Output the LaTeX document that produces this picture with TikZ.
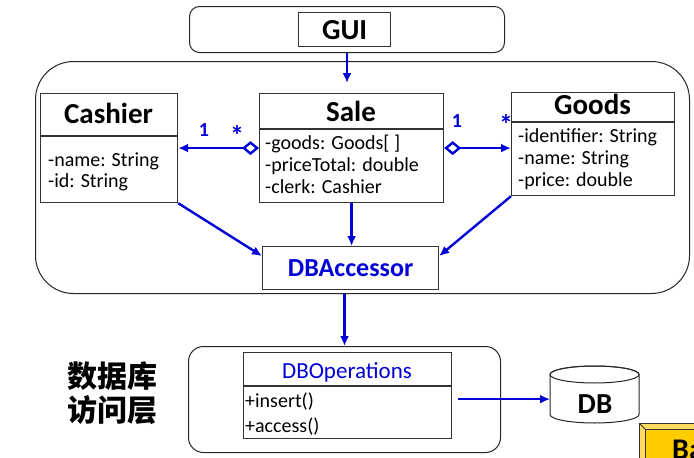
\documentclass[tikz,border=0pt]{standalone}
\usepackage{fontspec}
\setmainfont{Carlito}
\newfontfamily\cjk{Noto Sans CJK SC}
\usetikzlibrary{arrows.meta}
\definecolor{linkblue}{RGB}{0,0,215}
\definecolor{barface}{RGB}{255,204,0}
\definecolor{barside}{RGB}{255,220,95}
\tikzset{
  frame/.style={draw=black!85, line width=1pt, anchor=north west, inner sep=0pt},
  umlbox/.style={draw=black!80, line width=1.2pt, anchor=north west, inner sep=0pt},
  divider/.style={draw=black!80, line width=1.2pt},
  title/.style={font=\bfseries\fontsize{29}{34}\selectfont, anchor=base, inner sep=0pt},
  attr/.style={font=\fontsize{20}{24}\selectfont, anchor=base west, inner sep=0pt},
  mult/.style={text=linkblue, font=\bfseries\fontsize{20}{24}\selectfont, inner sep=0pt},
  link/.style={draw=linkblue, line width=2.4pt, -{Latex[length=10pt,width=9pt]}},
  agg/.style={link, {Diamond[open,length=17pt,width=14pt]}-{Latex[length=10pt,width=9pt]}},
}
\begin{document}
\begin{tikzpicture}[x=1pt, y=-1pt]
    \useasboundingbox (0,0) rectangle (694,458);
    % layers
    \node[frame, rounded corners=10pt, minimum width=315pt, minimum height=46pt] (guilayer) at (189,6) {};
    \node[frame, rounded corners=38pt, minimum width=654pt, minimum height=232pt] (logiclayer) at (35,61) {};
    \node[frame, rounded corners=15pt, minimum width=312pt, minimum height=106pt] (datalayer) at (188,346) {};
    \node[umlbox, minimum width=92pt, minimum height=34pt, font=\bfseries\fontsize{29}{34}\selectfont] (gui) at (298,12) {GUI};
    % classes
    \node[umlbox, minimum width=137pt, minimum height=109pt] (cashier) at (40,93) {};
    \draw[divider] (40,136) -- (177,136);
    \node[title] (cashiertitle) at (108.5,123) {Cashier};
    \node[attr] (cashiername) at (48,166) {-name: String};
    \node[attr] (cashierid) at (48,187) {-id: String};
    \node[umlbox, minimum width=184pt, minimum height=109pt] (sale) at (259,93) {};
    \draw[divider] (259,129) -- (443,129);
    \node[title] (saletitle) at (351,121) {Sale};
    \node[attr] (salegoods) at (265,149) {-goods: Goods[ ]};
    \node[attr] (saletotal) at (265,171) {-priceTotal: double};
    \node[attr] (saleclerk) at (265,193) {-clerk: Cashier};
    \node[umlbox, minimum width=163pt, minimum height=103pt] (goods) at (511,92) {};
    \draw[divider] (511,122) -- (674,122);
    \node[title] (goodstitle) at (592.5,114) {Goods};
    \node[attr] (goodsid) at (518,142) {-identifier: String};
    \node[attr] (goodsname) at (518,164) {-name: String};
    \node[attr] (goodsprice) at (518,186) {-price: double};
    \node[umlbox, minimum width=176pt, minimum height=43pt, text=linkblue, font=\bfseries\fontsize{26}{30}\selectfont] (dbacc) at (262,246) {DBAccessor};
    \node[umlbox, minimum width=208pt, minimum height=86pt] (dbops) at (243,352) {};
    \draw[divider] (243,386) -- (451,386);
    \node[attr, anchor=base, text=linkblue, font=\fontsize{23}{26}\selectfont] (dbopstitle) at (347,378) {DBOperations};
    \node[attr] (dbinsert) at (245,407) {+insert()};
    \node[attr] (dbaccess) at (245,432) {+access()};
    % database drum
    \node[anchor=north west, inner sep=0pt, minimum width=89pt, minimum height=57pt] (db) at (550,366) {};
    \draw[black!85, line width=1pt, fill=white] (550,374.5) -- (550,414.5)
        arc[start angle=180, end angle=360, x radius=44.5pt, y radius=8.5pt] -- (639,374.5)
        arc[start angle=0, end angle=180, x radius=44.5pt, y radius=8.5pt] -- cycle;
    \draw[black!85, line width=1pt] (594.5,374.5) ellipse[x radius=44.5pt, y radius=8.5pt];
    \node[title] (dbtitle) at (595,413) {DB};
    \node[font=\cjk\bfseries\fontsize{30}{34}\selectfont, anchor=base, inner sep=0pt] (layerup) at (112.5,387) {数据库};
    \node[font=\cjk\bfseries\fontsize{30}{34}\selectfont, anchor=base, inner sep=0pt] (layerdown) at (112.5,421) {访问层};
    % connectors
    \draw[link, shorten >=10pt] (guilayer.south) -- (guilayer.south |- sale.north);
    \draw[agg] (sale.west) -- (cashier.east);
    \draw[agg] (sale.east) -- (sale.east -| goods.west);
    \node[mult] (cashierone) at (204,130) {1};
    \node[mult, font=\bfseries\fontsize{28}{30}\selectfont] (cashierstar) at (237,135) {*};
    \node[mult] (goodsone) at (457,121) {1};
    \node[mult, font=\bfseries\fontsize{28}{30}\selectfont] (goodsstar) at (506,124) {*};
    \draw[link] (cashier.south east) -- ([yshift=-10pt]dbacc.north west);
    \draw[link] (sale.south) -- (sale.south |- dbacc.north);
    \draw[link] (goods.south west) -- ([yshift=-10pt]dbacc.north east);
    \draw[link] (logiclayer.south -| datalayer.north) -- (datalayer.north);
    \draw[link] ([xshift=6pt,yshift=-3.5pt]dbops.east) coordinate (opsout) -- (opsout -| db.west);
    % cut-off box at the corner
    \fill[barside, draw=black!80, line width=1pt] (639,423) rectangle (730,490);
    \fill[barface, draw=black!80, line width=1pt] (645,429) rectangle (730,490);
    \draw[black!80, line width=1pt] (639,423) -- (645,429);
    \node[font=\bfseries\fontsize{30}{34}\selectfont, anchor=base west, inner sep=0pt] (bartext) at (672,459) {Ba};
\end{tikzpicture}
\end{document}
